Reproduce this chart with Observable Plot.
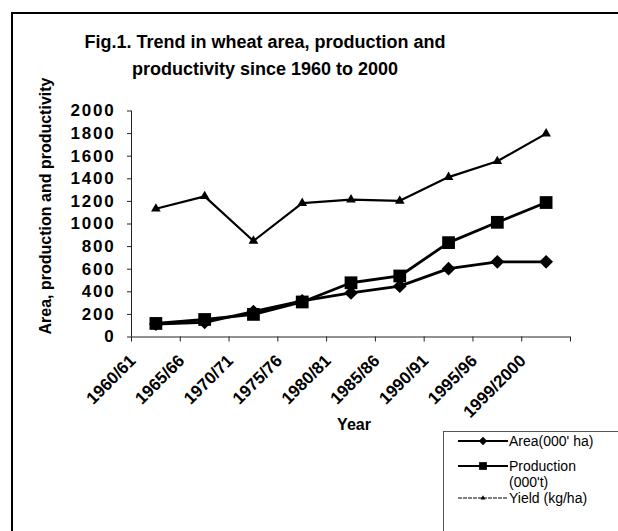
<!DOCTYPE html>
<html>
<head>
<meta charset="utf-8">
<script src="https://cdn.jsdelivr.net/npm/d3@7"></script>
<script src="https://cdn.jsdelivr.net/npm/@observablehq/plot@0.6"></script>
<style>
  html, body { margin: 0; padding: 0; background: #fff; }
  #wrap { position: relative; width: 618px; height: 531px; overflow: hidden; font-family: "Liberation Sans", Arial, sans-serif; }
  #border { position: absolute; left: 11px; top: 12px; width: 700px; height: 700px; border-left: 2px solid #000; border-top: 2px solid #000; }
  #title { position: absolute; left: 0; width: 530px; top: 29px; text-align: center; font-weight: bold; font-size: 18px; line-height: 27px; color: #000; }
  #plot { position: absolute; left: 0; top: 0; }
  #legend { position: absolute; left: 443px; top: 431px; width: 300px; height: 200px; border-left: 1px solid #555; border-top: 1px solid #555; }
</style>
</head>
<body>
<div id="wrap">
  <div id="border"></div>
  <div id="title">Fig.1. Trend in wheat area, production and<br>productivity since 1960 to 2000</div>
  <div id="plot"></div>
  <div id="legend"></div>
</div>
<script>
const years = ["1960/61", "1965/66", "1970/71", "1975/76", "1980/81", "1985/86", "1990/91", "1995/96", "1999/2000"];
const area = [115, 130, 225, 320, 390, 450, 605, 665, 665];
const production = [120, 155, 200, 310, 480, 540, 835, 1015, 1190];
const yieldKg = [1135, 1245, 850, 1185, 1215, 1205, 1415, 1555, 1800];
const yTicks = [0, 200, 400, 600, 800, 1000, 1200, 1400, 1600, 1800, 2000];
const seriesNames = ["Area(000' ha)", "Production\n(000't)", "Yield (kg/ha)"];

const rows = (vals) => vals.map((v, i) => ({i: i + 0.5, v, year: years[i]}));
const A = rows(area), P = rows(production), Y = rows(yieldKg);
const xIdx = d3.range(0, years.length + 1);

const chart = Plot.plot({
  width: 618,
  height: 531,
  marginLeft: 131,
  marginRight: 48,
  marginTop: 110.5,
  marginBottom: 194.5,
  style: {fontFamily: '"Liberation Sans", Arial, sans-serif', background: "transparent", color: "#000"},
  x: {type: "linear", domain: [0, years.length], axis: null},
  y: {domain: [0, 2000], axis: null},
  marks: [
    Plot.ruleX([0], {stroke: "#222", strokeWidth: 1}),
    Plot.ruleY([0], {stroke: "#222", strokeWidth: 1}),
    Plot.axisY({ticks: yTicks, tickSize: 4, tickPadding: 12, tickFormat: d3.format("d"), label: null, fontSize: 17, fontWeight: "bold", stroke: "#222"}),
    Plot.axisX({ticks: xIdx, tickSize: 5, tickFormat: () => "", label: null, stroke: "#222"}),
    Plot.text(years, {ariaLabel: "xlabels", x: (d, i) => i + 0.5, frameAnchor: "bottom", text: d => d, rotate: -45, textAnchor: "end", lineAnchor: "middle", dx: -23, dy: 21, fontSize: 17, fontWeight: "bold"}),
    Plot.text(["Area, production and productivity"], {frameAnchor: "left", text: d => d, rotate: -90, textAnchor: "middle", dx: -86, dy: -18, fontSize: 16, fontWeight: "bold"}),
    Plot.text(["Year"], {ariaLabel: "xtitle", frameAnchor: "bottom", text: d => d, dx: 3, dy: 93, fontSize: 16, fontWeight: "bold"}),
    Plot.line(Y, {x: "i", y: "v", stroke: "#000", strokeWidth: 2.2}),
    Plot.line(A, {x: "i", y: "v", stroke: "#000", strokeWidth: 2.8}),
    Plot.line(P, {x: "i", y: "v", stroke: "#000", strokeWidth: 2.8}),
    Plot.dot(Y, {x: "i", y: "v", symbol: "triangle", r: 3.6, fill: "#000", stroke: "none"}),
    Plot.dot(A, {x: "i", y: "v", symbol: "diamond2", r: 6.2, fill: "#000", stroke: "none"}),
    Plot.dot(P, {x: "i", y: "v", symbol: "square", r: 7.2, fill: "#000", stroke: "none"})
  ]
});
const cs = d3.select(chart);
cs.selectAll("g[aria-label='y-axis tick label'] text").style("letter-spacing", "1.8px");
cs.selectAll("g[aria-label='xlabels'] text").style("letter-spacing", "0.5px");
cs.selectAll("g[aria-label='xtitle'] text").style("letter-spacing", "1px");
document.getElementById("plot").appendChild(chart);

// Legend
const legendItems = [
  {name: seriesNames[0], sym: d3.symbolDiamond2, size: 45, width: 2, dash: null, y: 9},
  {name: seriesNames[1], sym: d3.symbolSquare, size: 60, width: 2, dash: null, y: 34},
  {name: seriesNames[2], sym: d3.symbolTriangle, size: 10, width: 1.2, dash: "4,1", y: 66}
];
const lg = d3.select("#legend").append("svg").attr("width", 175).attr("height", 100)
  .style("position", "absolute").style("left", "0px").style("top", "0px");
legendItems.forEach(it => {
  const g = lg.append("g");
  g.append("line").attr("x1", 14).attr("x2", 64).attr("y1", it.y).attr("y2", it.y)
    .attr("stroke", "#000").attr("stroke-width", it.width).attr("stroke-dasharray", it.dash);
  g.append("path").attr("d", d3.symbol(it.sym, it.size)()).attr("transform", `translate(39,${it.y})`).attr("fill", "#000");
  const t = g.append("text").attr("x", 65).attr("y", it.y)
    .attr("font-family", '"Liberation Sans", Arial, sans-serif').attr("font-size", 14).attr("fill", "#000");
  it.name.split("\n").forEach((ln, k) => {
    t.append("tspan").attr("x", 65).attr("dy", k === 0 ? "0.35em" : "16px").text(ln);
  });
});
</script>
</body>
</html>
